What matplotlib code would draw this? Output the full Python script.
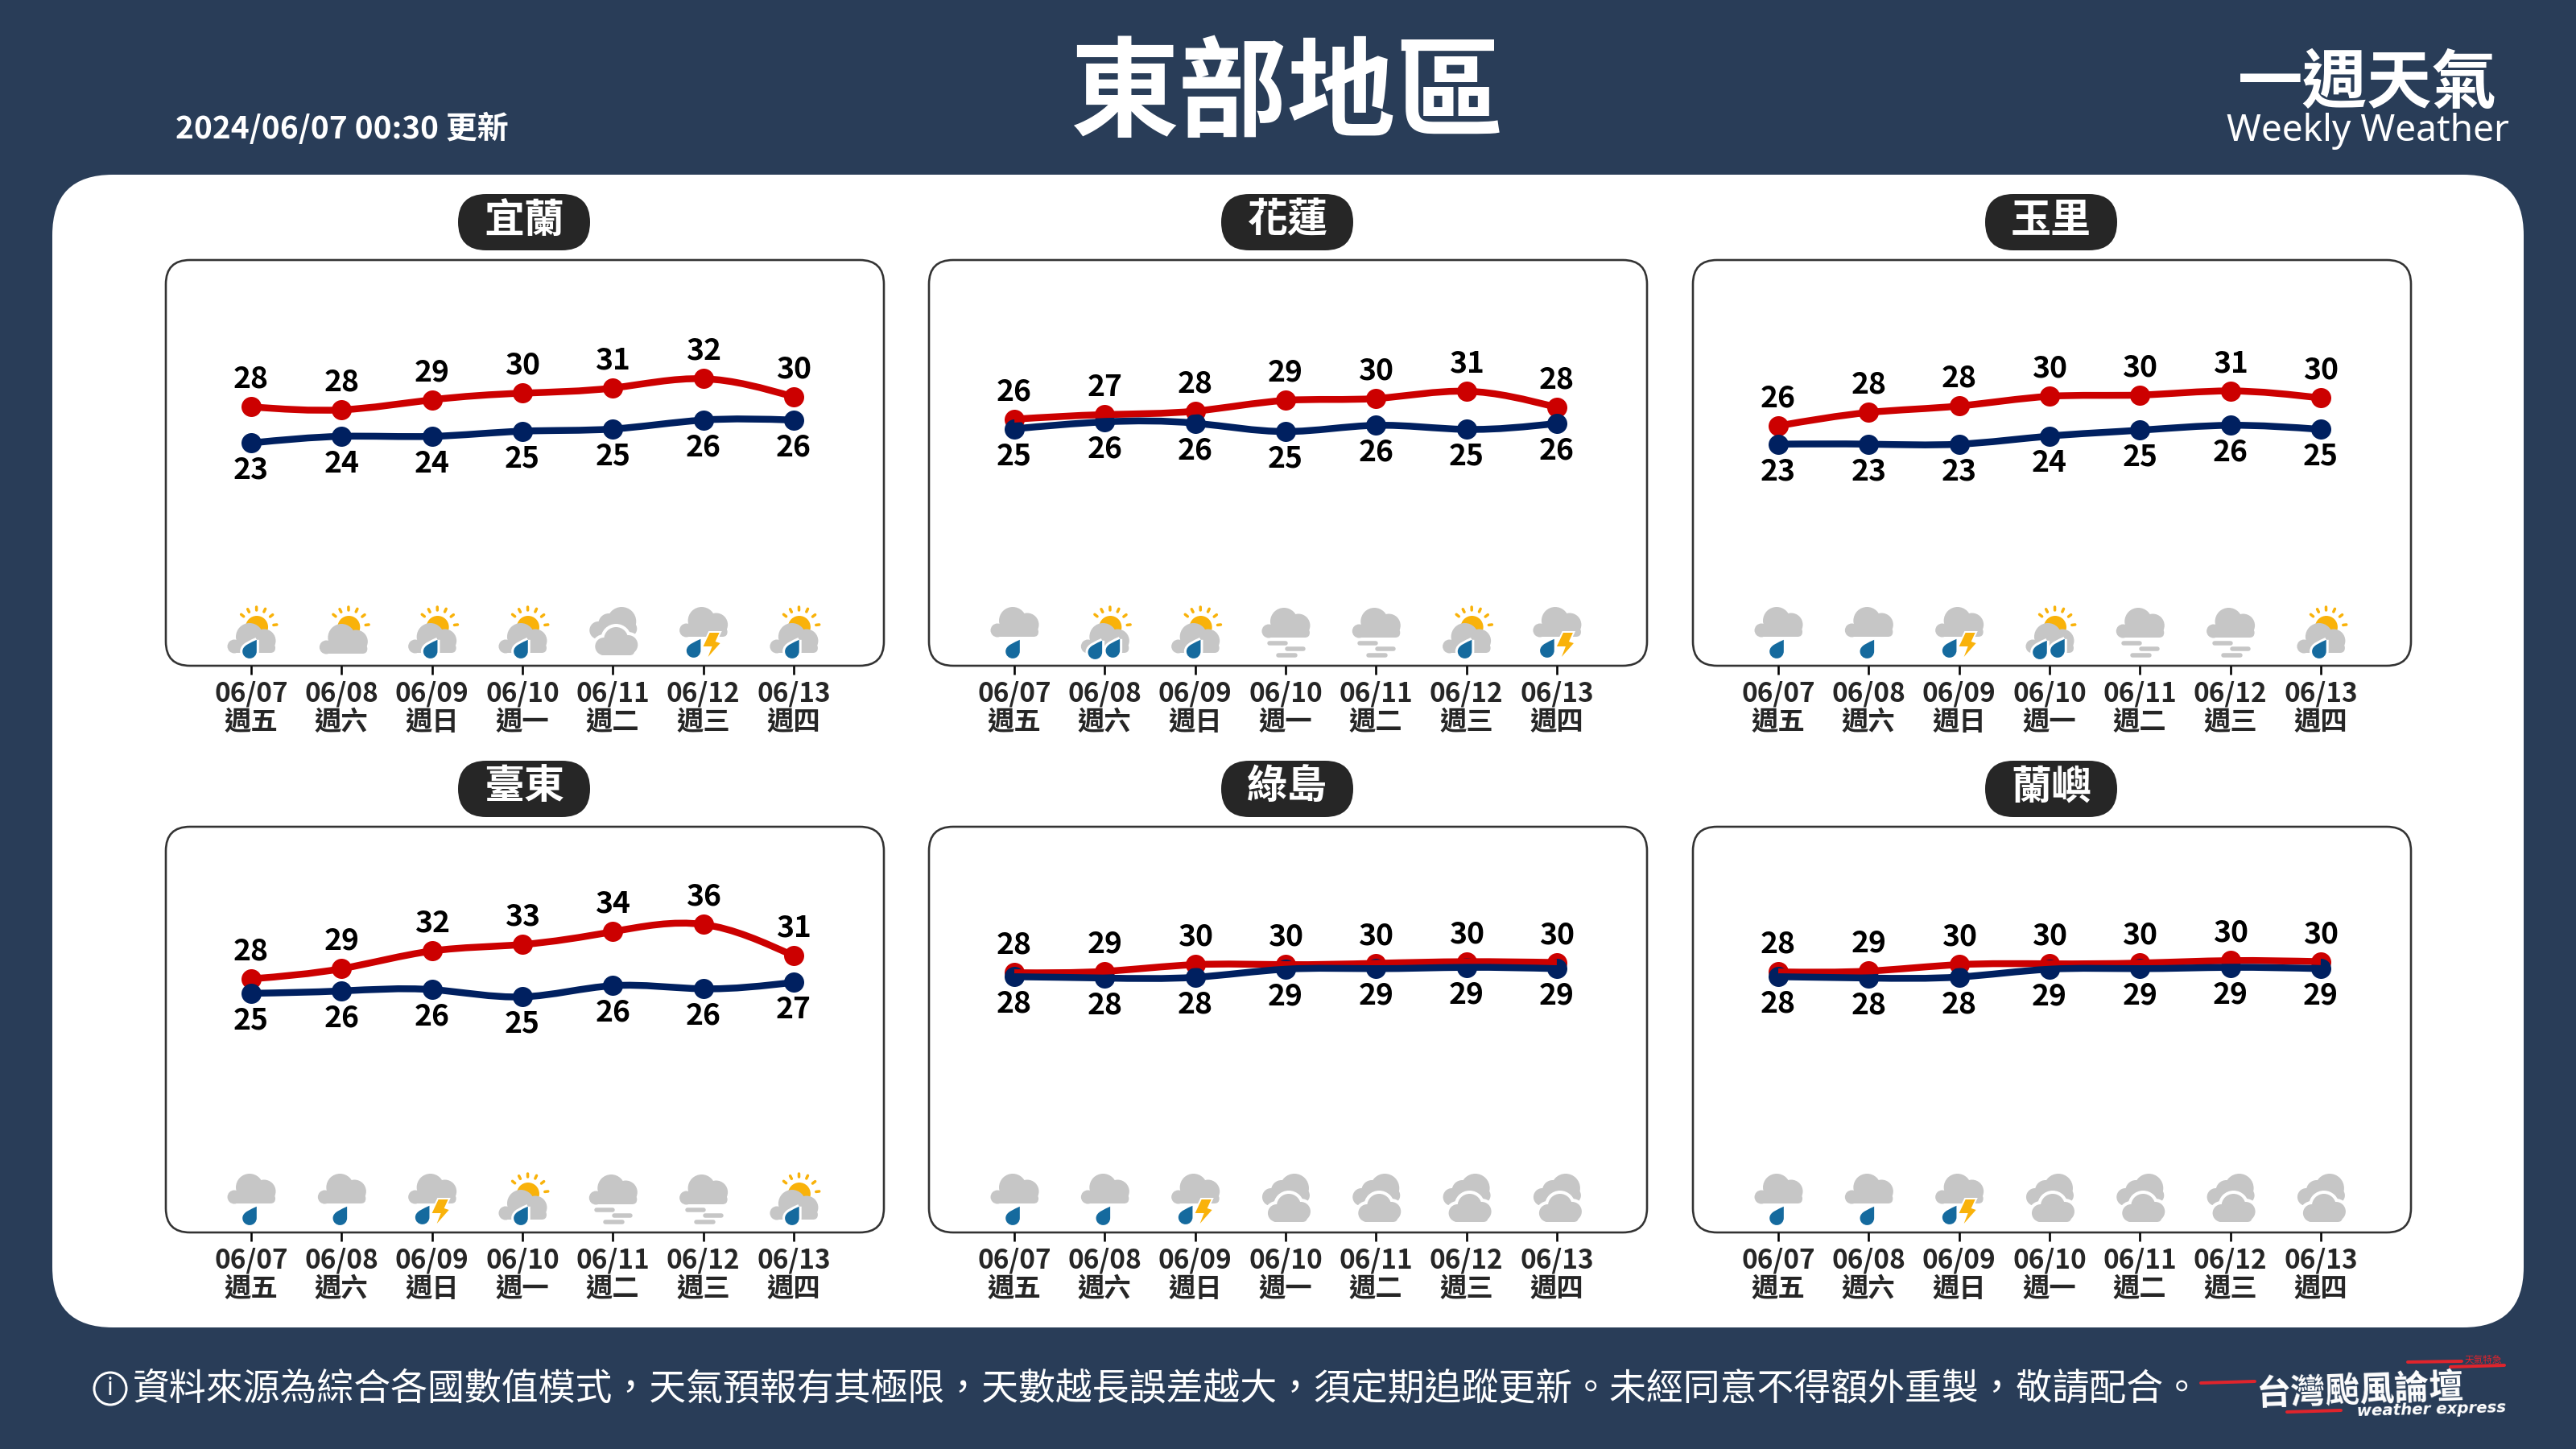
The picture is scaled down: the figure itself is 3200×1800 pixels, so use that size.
import numpy as np
import matplotlib
matplotlib.use('Agg')
import matplotlib.pyplot as plt
from matplotlib.path import Path
from matplotlib.patches import PathPatch, FancyBboxPatch, Circle, Polygon
from matplotlib.transforms import Affine2D

plt.rcParams['font.family'] = ['Noto Sans CJK TC', 'DejaVu Sans']

# data
stations = ['宜蘭', '花蓮', '玉里', '臺東', '綠島', '蘭嶼']
dates = ['06/07', '06/08', '06/09', '06/10', '06/11', '06/12', '06/13']
weekdays = ['週五', '週六', '週日', '週一', '週二', '週三', '週四']

high_labels = [
    [28, 28, 29, 30, 31, 32, 30],
    [26, 27, 28, 29, 30, 31, 28],
    [26, 28, 28, 30, 30, 31, 30],
    [28, 29, 32, 33, 34, 36, 31],
    [28, 29, 30, 30, 30, 30, 30],
    [28, 29, 30, 30, 30, 30, 30],
]
low_labels = [
    [23, 24, 24, 25, 25, 26, 26],
    [25, 26, 26, 25, 26, 25, 26],
    [23, 23, 23, 24, 25, 26, 25],
    [25, 26, 26, 25, 26, 26, 27],
    [28, 28, 28, 29, 29, 29, 29],
    [28, 28, 28, 29, 29, 29, 29],
]
# the line heights are not the rounded labels, so they are read off separately
high_values = [
    [28.39, 27.96, 29.41, 30.37, 31.12, 32.46, 29.84],
    [26.6, 27.26, 27.77, 29.32, 29.6, 30.65, 28.31],
    [25.63, 27.57, 28.51, 29.91, 30.1, 30.69, 29.67],
    [27.62, 29.1, 31.66, 32.6, 34.46, 35.51, 30.96],
    [28.51, 28.71, 29.68, 29.68, 29.87, 30.11, 29.99],
    [28.63, 28.75, 29.68, 29.8, 29.91, 30.26, 30.11],
]
low_values = [
    [23.15, 24.11, 24.11, 24.86, 25.18, 26.47, 26.47],
    [25.2, 26.21, 26.02, 24.81, 25.71, 25.12, 25.98],
    [22.98, 22.98, 22.98, 24.15, 25.0, 25.71, 25.12],
    [25.52, 25.87, 26.06, 25.01, 26.63, 26.18, 27.11],
    [27.93, 27.74, 27.85, 29.02, 29.1, 29.29, 29.1],
    [27.93, 27.74, 27.89, 29.02, 29.1, 29.29, 29.1],
]
# a sun+drop, b sun, c two clouds, d drop+bolt, e drop, f sun+2 drops, g fog
icons = [
    ['a', 'b', 'a', 'a', 'c', 'd', 'a'],
    ['e', 'f', 'a', 'g', 'g', 'a', 'd'],
    ['e', 'e', 'd', 'f', 'g', 'g', 'a'],
    ['e', 'e', 'd', 'a', 'g', 'g', 'a'],
    ['e', 'e', 'd', 'c', 'c', 'c', 'c'],
    ['e', 'e', 'd', 'c', 'c', 'c', 'c'],
]

W, H = 3200, 1800
BG = '#293D58'
RED = '#CC0000'
NAVY = '#002060'
GRAY = '#C6C6C6'
SUN = '#F9B20A'
BLUE = '#156A9E'
DARK = '#262626'

panel_x = [206, 1154, 2103]
panel_y = [323, 1027]
panel_w, panel_h = 892, 504


def px(v):
    # pixels to points
    return v * 72 / 200


fig = plt.figure(figsize=(16, 9), dpi=200, facecolor=BG)
bg = fig.add_axes([0, 0, 1, 1])
bg.set_xlim(0, W)
bg.set_ylim(H, 0)
bg.axis('off')


def round_box(x, y, w, h, r, **kw):
    bg.add_patch(FancyBboxPatch((x + r, y + r), w - 2 * r, h - 2 * r,
                                boxstyle=f'round,pad={r},rounding_size={r}', **kw))


round_box(65, 217, 3070, 1432, 75, fc='white', ec='none')

# header
bg.text(1599, 120, '東部地區', color='white', fontsize=48.5, fontweight='bold', ha='center', va='center')
bg.text(218, 160, '2024/06/07 00:30 更新', color='white', fontsize=14, fontweight='bold', ha='left', va='center')
bg.text(2941, 104, '一週天氣', color='white', fontsize=29, fontweight='bold', ha='center', va='center')
bg.text(2941, 163, 'Weekly Weather', color='white', fontsize=16.6, family='Noto Sans', ha='center', va='center')

# footer
foot = '資料來源為綜合各國數值模式，天氣預報有其極限，天數越長誤差越大，須定期追蹤更新。未經同意不得額外重製，敬請配合。'
bg.add_patch(Circle((137, 1725), 20, fc='none', ec='white', lw=px(3)))
bg.text(137, 1725, 'i', color='white', fontsize=11, ha='center', va='center', family='Noto Sans')
bg.text(165, 1725, foot, color='white', fontsize=16.53, fontweight='light', ha='left', va='center')

# logo
for x0, y0, x1, y1 in [(2734, 1718, 2801, 1716), (2841, 1754, 2908, 1752),
                       (2991, 1692, 3058, 1691), (3044, 1698, 3111, 1696)]:
    bg.plot([x0, x1], [y0, y1], color='#E0242C', lw=px(4), solid_capstyle='round')
bg.text(2931, 1727, '台灣颱風論壇', color='white', fontsize=15.5, fontweight='bold', ha='center', va='center', rotation=2)
bg.text(3020, 1751, 'weather express', color='white', fontsize=7.1, fontweight='bold', style='italic',
        family='DejaVu Sans', ha='center', va='center', rotation=1.5)
bg.text(3085, 1689, '天氣特急', color='#E0242C', fontsize=4.2, ha='center', va='center')


def smooth_path(xs, ys):
    # bezier through the points with natural spline slopes
    p = np.column_stack([xs, ys])
    n = len(p)
    A = np.zeros((n, n))
    b = np.zeros((n, 2))
    A[0, :2] = [2, 1]
    b[0] = 3 * (p[1] - p[0])
    A[-1, -2:] = [1, 2]
    b[-1] = 3 * (p[-1] - p[-2])
    for i in range(1, n - 1):
        A[i, i - 1:i + 2] = [1, 4, 1]
        b[i] = 3 * (p[i + 1] - p[i - 1])
    t = np.linalg.solve(A, b)
    verts = [p[0]]
    codes = [Path.MOVETO]
    for i in range(n - 1):
        verts += [p[i] + t[i] / 3, p[i + 1] - t[i + 1] / 3, p[i + 1]]
        codes += [Path.CURVE4] * 3
    return Path(verts, codes)


def blob(ax, tr, circles, base, color=GRAY, halo=0, z=3):
    # cloud = some circles on a rounded base, local pixels, y up
    x0, x1, y0, y1 = base
    if halo:
        for cx, cy, r in circles:
            ax.add_patch(Circle((cx, cy), r + halo, fc='white', ec='none', transform=tr, zorder=z, clip_on=False))
    for cx, cy, r in circles:
        ax.add_patch(Circle((cx, cy), r, fc=color, ec='none', transform=tr, zorder=z, clip_on=False))
    ax.add_patch(FancyBboxPatch((x0, y0 + 5), x1 - x0, y1 - y0 - 5, boxstyle='round,pad=0,rounding_size=5',
                                fc=color, ec='none', transform=tr, zorder=z, clip_on=False))
    ax.add_patch(FancyBboxPatch((x0 - 4, y0), x1 - x0 + 8, 12, boxstyle='round,pad=0,rounding_size=6',
                                fc=color, ec='none', transform=tr, zorder=z, clip_on=False))


def cloud(ax, tr, dy=0, z=3):
    blob(ax, tr, [(-21, 24 + dy, 8.5), (-2, 36 + dy, 17), (16, 31 + dy, 14.5)], (-19, 26, 16 + dy, 30 + dy), z=z)


def sun(ax, tr, ox=0, oy=0):
    cx, cy = 7 + ox, 48 + oy
    ax.add_patch(Circle((cx, cy), 14, fc=SUN, ec='none', transform=tr, zorder=2.5, clip_on=False))
    for a in [141, 117, 91, 65, 38, 7]:
        ca, sa = np.cos(np.radians(a)), np.sin(np.radians(a))
        ax.plot([cx + 21 * ca, cx + 25 * ca], [cy + 21 * sa, cy + 25 * sa], color=SUN, lw=px(3.5),
                solid_capstyle='round', transform=tr, zorder=2.5, clip_on=False)


def drop(ax, tr, x, y, halo=False):
    v = [(8, 12), (2, 9), (-8, 6), (-8, -1), (-8, -6), (-4, -9), (0, -9), (5, -9), (8, -5), (8, -1), (8, 3), (8, 8), (8, 12)]
    c = [Path.MOVETO] + [Path.CURVE4] * 12
    tr2 = Affine2D().scale(1.1).translate(x, y) + tr
    if halo:
        ax.add_patch(PathPatch(Path(v, c), fc='white', ec='white', lw=px(6), transform=tr2, zorder=4, clip_on=False))
    ax.add_patch(PathPatch(Path(v, c), fc=BLUE, ec='none', transform=tr2, zorder=4.1, clip_on=False))


def bolt(ax, tr):
    pts = [(8, 41), (20, 41), (15, 30), (21, 28), (6, 11), (11, 24), (0, 24)]
    ax.add_patch(Polygon(pts, closed=True, fc='white', ec='white', lw=px(4), transform=tr, zorder=4, clip_on=False))
    ax.add_patch(Polygon(pts, closed=True, fc=SUN, ec='none', transform=tr, zorder=4.1, clip_on=False))


def draw_icon(ax, kind, tr):
    if kind == 'a':
        sun(ax, tr)
        cloud(ax, tr)
        drop(ax, tr, -2, 19, True)
    elif kind == 'b':
        sun(ax, Affine2D().translate(2, 0) + tr)
        cloud(ax, Affine2D().translate(2, -1) + tr)
    elif kind == 'c':
        blob(ax, tr, [(-18, 44, 11), (-5, 52, 13), (11, 55, 18), (20, 46, 10)], (-16, 22, 34, 50))
        blob(ax, tr, [(-11, 24, 11), (4, 33, 15), (19, 26, 12)], (-13, 23, 13, 30), halo=4, z=3.2)
    elif kind == 'd':
        cloud(ax, tr, 20)
        drop(ax, tr, -12, 20)
        bolt(ax, tr)
    elif kind == 'e':
        cloud(ax, tr, 20)
        drop(ax, tr, -2, 19)
    elif kind == 'f':
        sun(ax, tr)
        cloud(ax, tr)
        drop(ax, tr, -12, 18, True)
        drop(ax, tr, 10, 20, True)
    elif kind == 'g':
        cloud(ax, tr, 19)
        for x0, x1, y in [(-23, 3, 28), (-1, 25, 21), (-12, 15, 13)]:
            ax.plot([x0 + 3, x1 - 3], [y, y], color=GRAY, lw=px(5.5), solid_capstyle='round',
                    transform=tr, zorder=3, clip_on=False)


ylim = (-9.14, 49.67)
xlim = (-0.944, 6.998)
tick_labels = [d + '\n' + w for d, w in zip(dates, weekdays)]

for n, name in enumerate(stations):
    x0 = panel_x[n % 3]
    y0 = panel_y[n // 3]
    round_box(x0, y0, panel_w, panel_h, 30, fc='white', ec='#333333', lw=px(2.6))
    cx = x0 + 445
    round_box(cx - 82, y0 - 82, 164, 70, 35, fc=DARK, ec='none')
    bg.text(cx, y0 - 49, name, color='white', fontsize=18, fontweight='bold', ha='center', va='center')

    ax = fig.add_axes([x0 / W, 1 - (y0 + panel_h) / H, panel_w / W, panel_h / H])
    ax.patch.set_alpha(0)
    ax.set_xlim(*xlim)
    ax.set_ylim(*ylim)
    for s in ax.spines.values():
        s.set_visible(False)
    ax.set_yticks([])
    ax.set_xticks(range(7))
    ax.set_xticklabels(tick_labels, fontsize=12, fontweight='bold', color=DARK, linespacing=1.12)
    ax.tick_params(axis='x', length=px(11), width=px(2.6), color='black', pad=px(7))

    days = np.arange(7)
    # red dots, navy dots, then the two lines over them like the original
    ax.plot(days, high_values[n], 'o', color=RED, ms=px(25), mew=0, zorder=2.0)
    ax.plot(days, low_values[n], 'o', color=NAVY, ms=px(25), mew=0, zorder=2.1)
    ax.add_patch(PathPatch(smooth_path(days, high_values[n]), fc='none', ec=RED, lw=px(8.5), capstyle='butt', zorder=2.2))
    ax.add_patch(PathPatch(smooth_path(days, low_values[n]), fc='none', ec=NAVY, lw=px(8.5), capstyle='butt', zorder=2.3))

    for i in range(7):
        ax.annotate(str(high_labels[n][i]), (i, high_values[n][i]), xytext=(0, px(34)), textcoords='offset points',
                    ha='center', va='center', fontsize=13.4, fontweight='bold', color='black')
        ax.annotate(str(low_labels[n][i]), (i, low_values[n][i]), xytext=(0, -px(34)), textcoords='offset points',
                    ha='center', va='center', fontsize=13.4, fontweight='bold', color='black')
        # icons are drawn in pixels from the tick position at the box bottom
        ox, oy = ax.transData.transform((i, ylim[0]))
        draw_icon(ax, icons[n][i], Affine2D().translate(ox, oy))

fig.savefig('out.png', dpi=200, facecolor=BG)
